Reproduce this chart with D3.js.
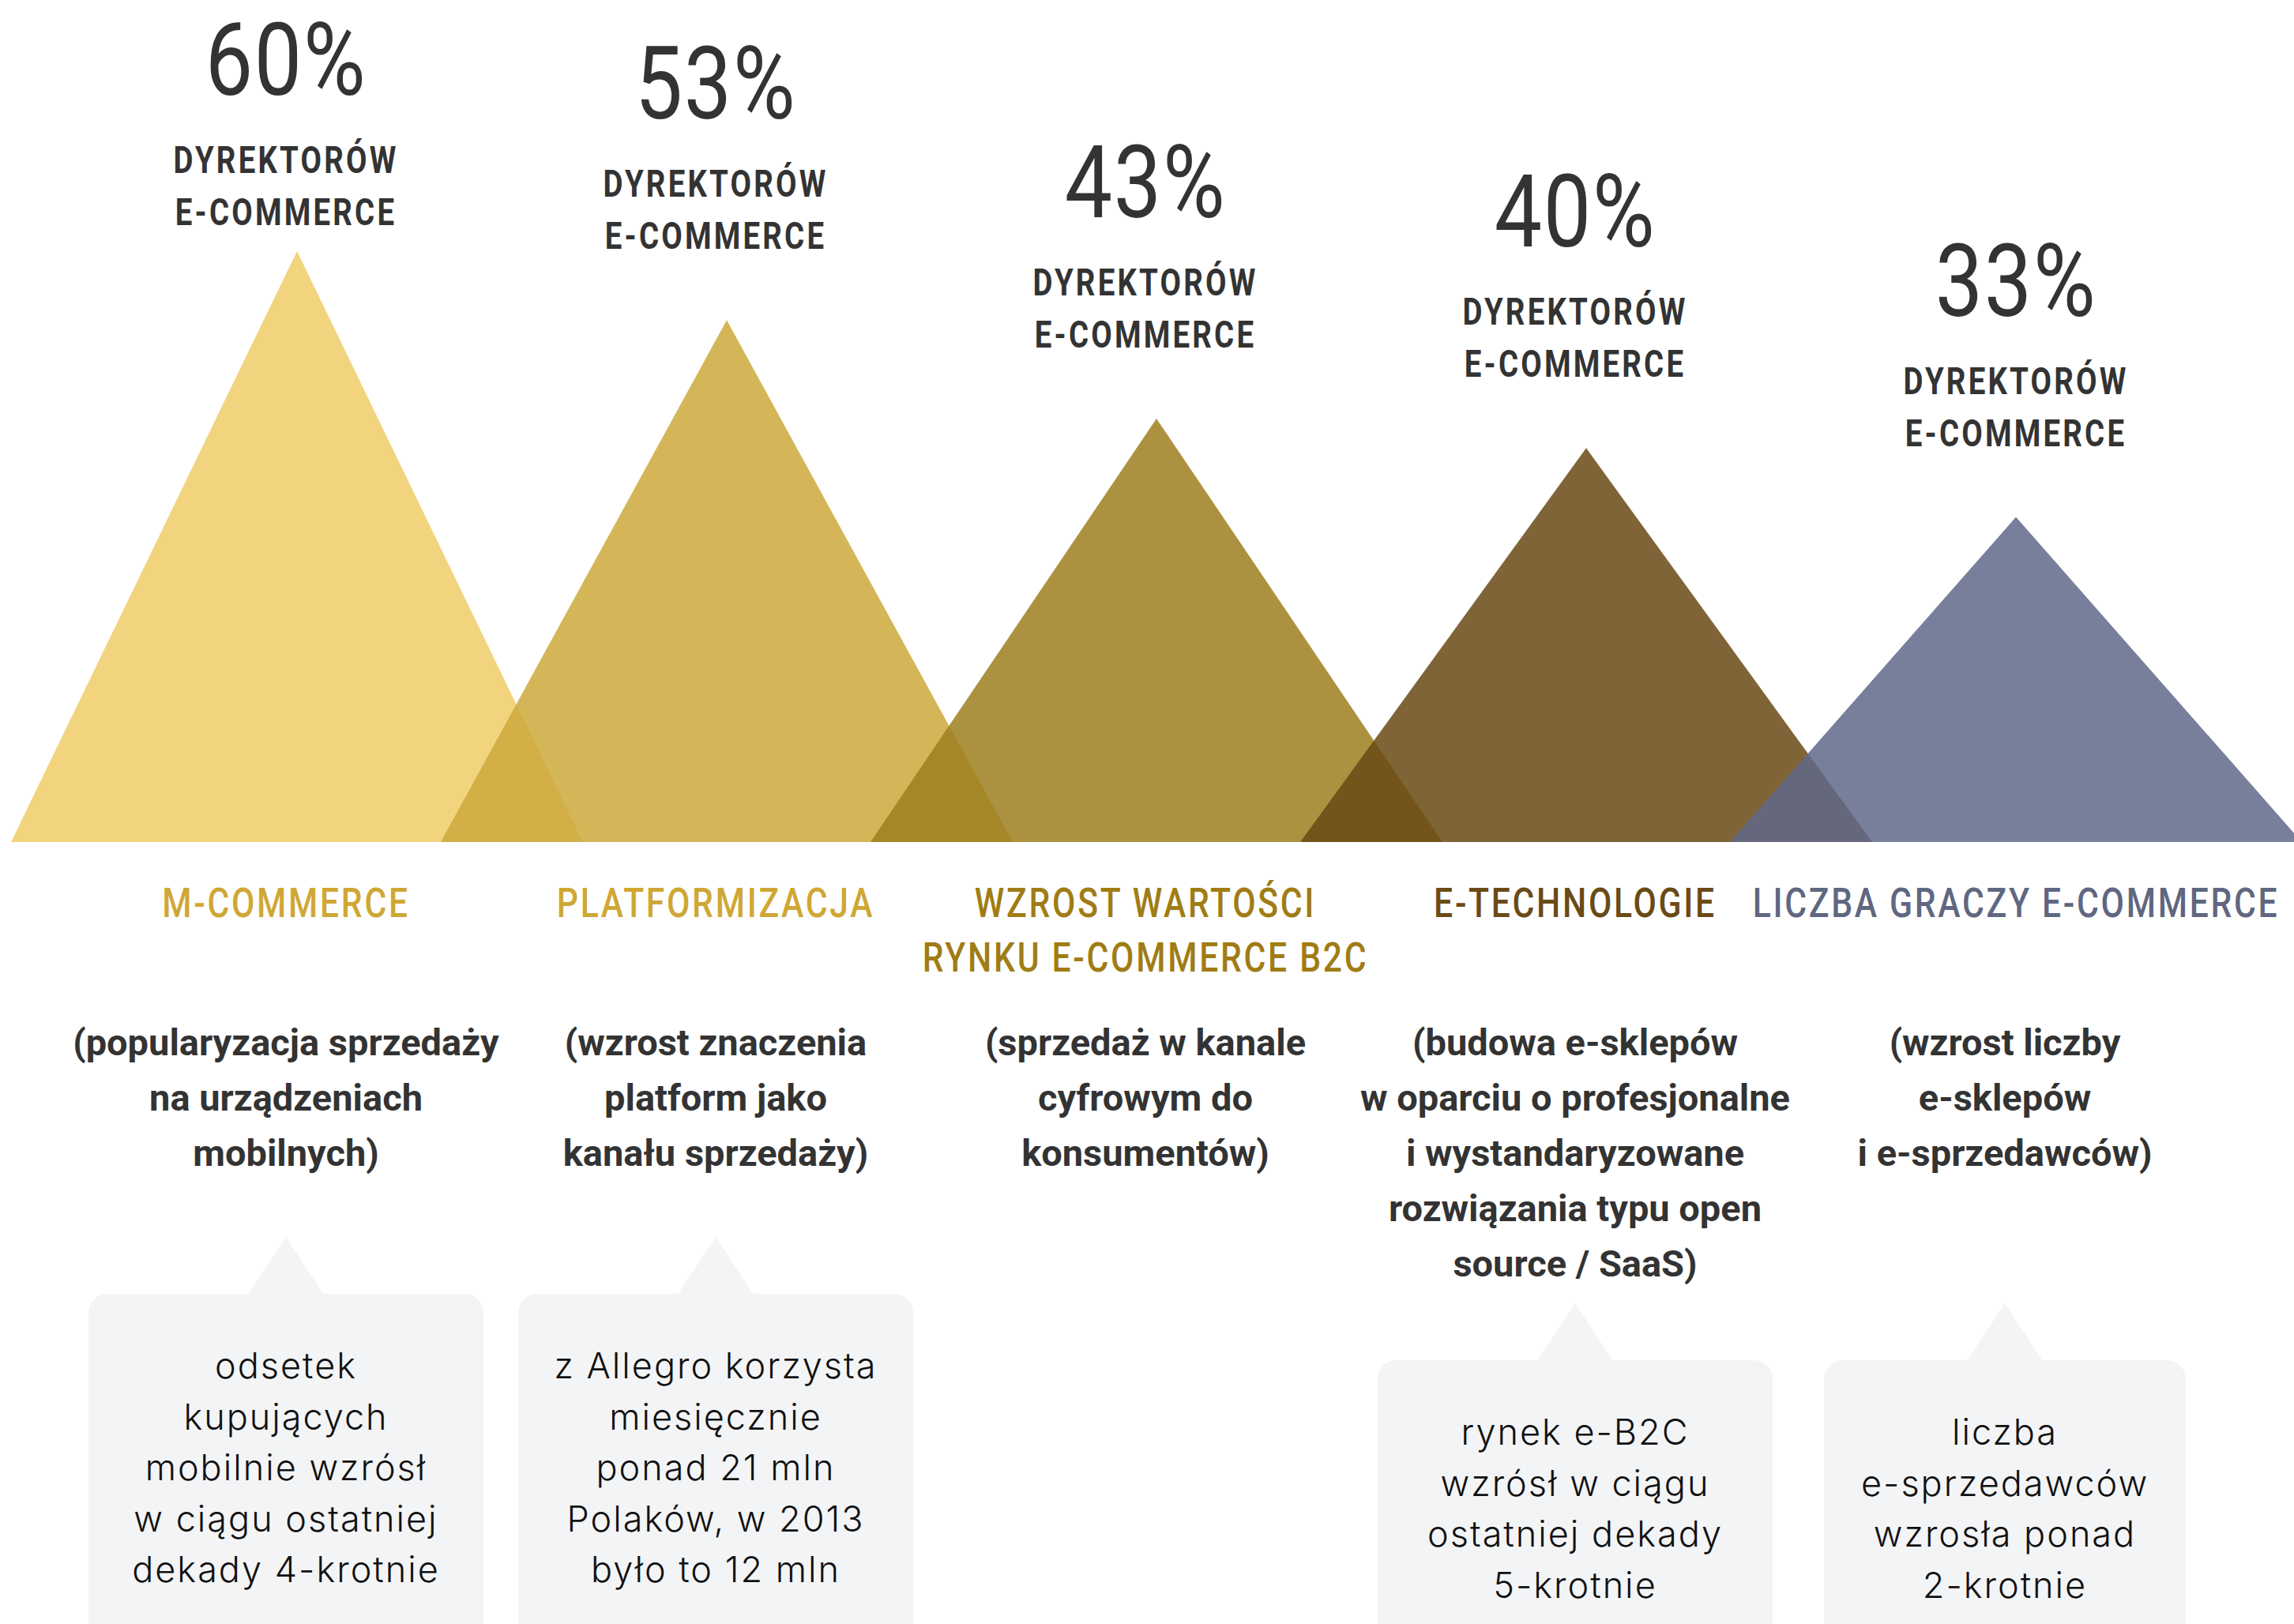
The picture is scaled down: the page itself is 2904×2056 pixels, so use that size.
<!DOCTYPE html>
<meta charset="utf-8" />
<script src="https://d3js.org/d3.v7.min.js"></script>
<style>
	body { margin: 0; background: #fff; }
</style>
<div id="my_dataviz"></div>

<script>
	// data
	var categories = ['mcommerce', 'platform', 'b2c', 'etech', 'gracze'];
	var values = [60, 53, 43, 40, 33];
	var colors = ['#F0CC68', '#CCA93C', '#9E7F1F', '#684914', '#60688A'];
	var headings = [
		['M-COMMERCE'],
		['PLATFORMIZACJA'],
		['WZROST WARTOŚCI', 'RYNKU E-COMMERCE B2C'],
		['E-TECHNOLOGIE'],
		['LICZBA GRACZY E-COMMERCE']
	];
	var headingColors = ['#CFA734', '#CFA734', '#A07C14', '#6A4A16', '#5F6781'];
	var descriptions = [
		['(popularyzacja sprzedaży', 'na urządzeniach', 'mobilnych)'],
		['(wzrost znaczenia', 'platform jako', 'kanału sprzedaży)'],
		['(sprzedaż w kanale', 'cyfrowym do', 'konsumentów)'],
		['(budowa e-sklepów', 'w oparciu o profesjonalne', 'i wystandaryzowane', 'rozwiązania typu open', 'source / SaaS)'],
		['(wzrost liczby', 'e-sklepów', 'i e-sprzedawców)']
	];
	var notes = [
		['odsetek', 'kupujących', 'mobilnie wzrósł', 'w ciągu ostatniej', 'dekady 4-krotnie'],
		['z Allegro korzysta', 'miesięcznie', 'ponad 21 mln', 'Polaków, w 2013', 'było to 12 mln'],
		null,
		['rynek e-B2C', 'wzrósł w ciągu', 'ostatniej dekady', '5-krotnie'],
		['liczba', 'e-sprzedawców', 'wzrosła ponad', '2-krotnie']
	];
	var subLabel = ['DYREKTORÓW', 'E-COMMERCE'];

	var width = 2904,
		height = 2056;

	var svg = d3
		.select('#my_dataviz')
		.append('svg')
		.attr('width', width)
		.attr('height', height);

	// scales
	var x = d3.scalePoint().domain(categories).range([376, 2552]);
	var y = d3.scaleLinear().domain([0, 60]).range([1066, 318]);
	var halfBase = 362;

	// text helper: condensed look by horizontal scaling
	function label(g, tx, ty, str, o) {
		return g
			.append('text')
			.attr('transform', 'translate(' + tx + ',' + ty + ') scale(' + (o.sx || 1) + ',1)')
			.attr('text-anchor', 'middle')
			.style('font-family', o.family || 'Roboto')
			.style('font-size', o.size + 'px')
			.style('font-weight', o.weight || 400)
			.style('letter-spacing', (o.ls || 0) + 'px')
			.style('fill', o.fill)
			.text(str);
	}

	// triangles
	svg
		.append('g')
		.selectAll('path')
		.data(categories)
		.enter()
		.append('path')
		.attr('d', function (d, i) {
			var cx = x(d);
			return 'M' + (cx - halfBase) + ',' + y(0) + 'L' + cx + ',' + y(values[i]) + 'L' + (cx + halfBase) + ',' + y(0) + 'Z';
		})
		.style('fill', function (d, i) {
			return colors[i];
		})
		.style('fill-opacity', 0.85);

	var txt = svg.append('g');

	categories.forEach(function (c, i) {
		var cx = x(c) - 14;
		// the last column's top labels sit on the apex
		var tx = i === categories.length - 1 ? x(c) : cx;

		// percent + "dyrektorów e-commerce"
		var py = Math.max(y(values[i]) - 255, 120);
		label(txt, tx, py, values[i] + '%', { size: 128, sx: 0.84, ls: 2, fill: '#333333' });
		label(txt, tx, py + 99, subLabel[0], { size: 48, weight: 700, sx: 0.8, ls: 4, fill: '#333333' });
		label(txt, tx, py + 165, subLabel[1], { size: 48, weight: 700, sx: 0.8, ls: 4, fill: '#333333' });

		// colored heading
		headings[i].forEach(function (h, j) {
			label(txt, tx, 1161 + j * 69, h, { size: 52, weight: 500, sx: 0.82, ls: 3.3, fill: headingColors[i] });
		});

		// description
		descriptions[i].forEach(function (t, j) {
			label(txt, cx, 1336 + j * 70, t, { size: 47, weight: 700, fill: '#333333' });
		});

		// note box with pointer
		if (notes[i]) {
			var top = i < 2 ? 1638 : 1722;
			var bw = i === 4 ? 458 : 500;
			var box = svg.append('g');
			box
				.append('rect')
				.attr('x', cx - bw / 2)
				.attr('y', top)
				.attr('width', bw)
				.attr('height', 500)
				.attr('rx', 24)
				.style('fill', '#F3F4F6');
			box
				.append('path')
				.attr('d', 'M' + (cx - 48) + ',' + (top + 1) + 'L' + cx + ',' + (top - 72) + 'L' + (cx + 48) + ',' + (top + 1) + 'Z')
				.style('fill', '#F3F4F6');
			notes[i].forEach(function (t, j) {
				label(box, cx, top + 107 + j * 64.5, t, { family: 'Inter', size: 45, weight: 300, ls: 2, fill: '#111111' });
			});
		}
	});
</script>
